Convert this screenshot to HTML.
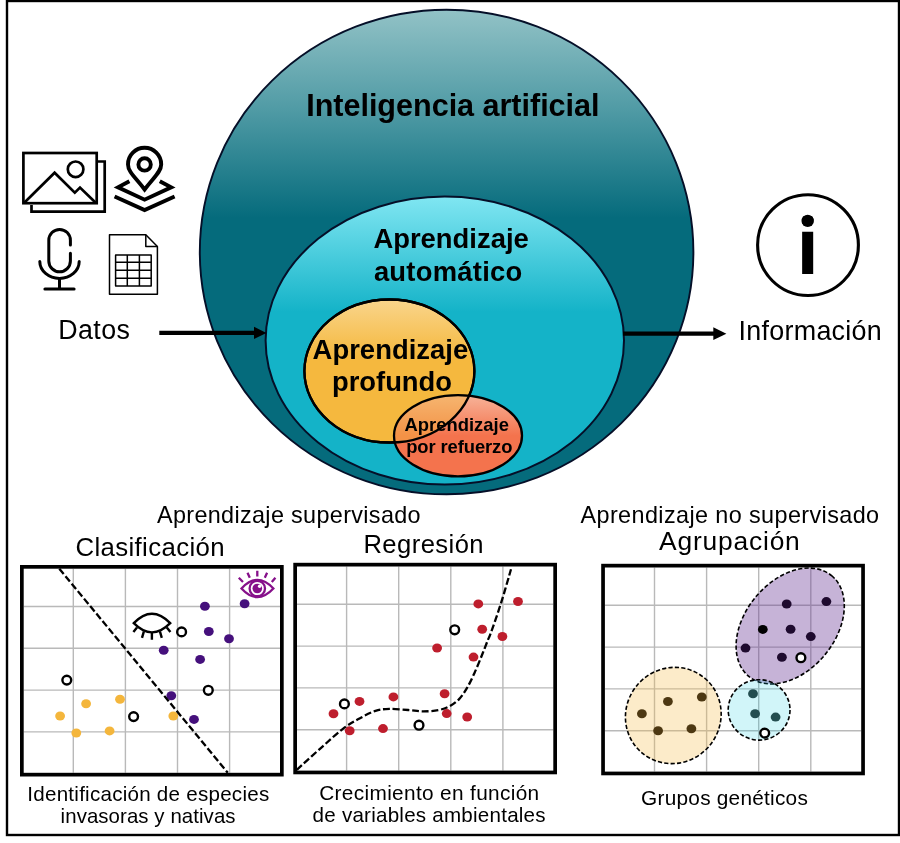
<!DOCTYPE html>
<html lang="es">
<head>
<meta charset="utf-8">
<title>Inteligencia artificial</title>
<style>
html,body{margin:0;padding:0;background:#fff;}
body{width:900px;height:843px;overflow:hidden;}
svg{display:block;}
text{font-family:"Liberation Sans",sans-serif;fill:#000;}
.b{font-weight:bold;}
</style>
</head>
<body>
<svg width="900" height="843" viewBox="0 0 900 843">
<defs>
<linearGradient id="gBig" x1="0" y1="0" x2="0" y2="1">
<stop offset="0" stop-color="#92c2c6"/>
<stop offset="0.2" stop-color="#529ca6"/>
<stop offset="0.43" stop-color="#056b7c"/>
<stop offset="1" stop-color="#056b7c"/>
</linearGradient>
<linearGradient id="gCyan" x1="0" y1="0" x2="0" y2="1">
<stop offset="0" stop-color="#80e6f2"/>
<stop offset="0.4" stop-color="#14b3c8"/>
<stop offset="1" stop-color="#14b3c8"/>
</linearGradient>
<linearGradient id="gOr" x1="0" y1="0" x2="0" y2="1">
<stop offset="0" stop-color="#f9d58c"/>
<stop offset="0.4" stop-color="#f5b83e"/>
<stop offset="1" stop-color="#f5b83e"/>
</linearGradient>
<linearGradient id="gRed" x1="0" y1="0" x2="0" y2="1">
<stop offset="0" stop-color="#f7b399"/>
<stop offset="0.5" stop-color="#f4734d"/>
<stop offset="1" stop-color="#f4734d"/>
</linearGradient>
</defs>
<rect x="0" y="0" width="900" height="843" fill="#fff"/>

<rect x="7" y="1" width="892" height="834" fill="none" stroke="#000" stroke-width="2.4"/>
<ellipse cx="446.6" cy="252" rx="246.8" ry="242.3" fill="url(#gBig)" stroke="#050f28" stroke-width="1.9"/>
<ellipse cx="444.8" cy="340.6" rx="179.2" ry="144" fill="url(#gCyan)" stroke="#050f28" stroke-width="2"/>
<ellipse cx="389.4" cy="371" rx="85" ry="71.5" fill="url(#gOr)" stroke="#000" stroke-width="2.3"/>
<clipPath id="cRed"><ellipse cx="458" cy="435.7" rx="64" ry="40.6"/></clipPath>
<ellipse cx="458" cy="435.7" rx="64" ry="40.6" fill="url(#gRed)"/>
<ellipse cx="389.4" cy="371" rx="85" ry="71.5" fill="#f5b83e" fill-opacity="0.45" clip-path="url(#cRed)"/>
<ellipse cx="389.4" cy="371" rx="85" ry="71.5" fill="none" stroke="#000" stroke-width="2.3"/>
<ellipse cx="458" cy="435.7" rx="64" ry="40.6" fill="none" stroke="#000" stroke-width="2.3"/>
<line x1="159.3" y1="332.9" x2="258.4" y2="332.9" stroke="#000" stroke-width="4.2"/>
<path d="M266.4 332.9 L254.0 326.8 L254.0 339.0 Z" fill="#000"/>
<line x1="623.0" y1="333.7" x2="718.4" y2="333.7" stroke="#000" stroke-width="4.2"/>
<path d="M726.4 333.7 L713.3 327.3 L713.3 340.1 Z" fill="#000"/>
<text x="306.2" y="116.0" font-size="30.60" class="b" text-anchor="start" textLength="293.3" lengthAdjust="spacing">Inteligencia artificial</text>
<text x="373.4" y="247.8" font-size="27.40" class="b" text-anchor="start" textLength="155.4" lengthAdjust="spacing">Aprendizaje</text>
<text x="373.9" y="281.1" font-size="27.40" class="b" text-anchor="start" textLength="148.3" lengthAdjust="spacing">automático</text>
<text x="312.6" y="358.8" font-size="27.40" class="b" text-anchor="start" textLength="155.6" lengthAdjust="spacing">Aprendizaje</text>
<text x="332.0" y="391.4" font-size="27.40" class="b" text-anchor="start" textLength="120.0" lengthAdjust="spacing">profundo</text>
<text x="404.4" y="430.9" font-size="18.40" class="b" text-anchor="start" textLength="104.6" lengthAdjust="spacing">Aprendizaje</text>
<text x="406.2" y="452.7" font-size="18.40" class="b" text-anchor="start" textLength="106.2" lengthAdjust="spacing">por refuerzo</text>
<text x="58.2" y="339.3" font-size="26.80" text-anchor="start" textLength="71.8" lengthAdjust="spacing">Datos</text>
<text x="738.5" y="340.3" font-size="26.90" text-anchor="start" textLength="143.3" lengthAdjust="spacing">Información</text>
<g fill="none" stroke="#000" stroke-width="2.7" stroke-linejoin="miter">
<path d="M31.5 205 V211.7 H104.7 V161.5 H98"/>
<rect x="23.4" y="153" width="73.3" height="50.2" fill="#fff"/>
<path d="M24 203 L54.6 172.7 L74.8 192.6 L80 187.6 L96 203" stroke-linejoin="miter"/>
<circle cx="75.6" cy="169.3" r="7.8"/>
</g>
<g fill="none" stroke="#000" stroke-width="3.9">
<path d="M144.6 189.5 C136 178 128 172 128 164.4 A16.6 16.6 0 0 1 161.2 164.4 C161.2 172 153 178 144.6 189.5 Z" stroke-linejoin="miter"/>
<circle cx="144.6" cy="164.4" r="6.2"/>
<path d="M129.4 181.2 L118 187.3 L144.6 199.7 L171.2 187.3 L159.8 181.2"/>
<path d="M114.6 196.5 L144.6 210 L174.6 196.5"/>
</g>
<g fill="none" stroke="#000" stroke-width="3.0" stroke-linecap="round">
<path d="M70.4 245 V240.2 A10.8 10.8 0 0 0 48.8 240.2 V261 A10.8 10.8 0 0 0 70.4 261 V253.3"/>
<path d="M39.8 261.6 A19.7 16.8 0 0 0 79.2 261.6"/>
<path d="M59.5 278.4 V289 M44.9 289 H74.1"/>
</g>
<g fill="none" stroke="#000" stroke-width="1.5" stroke-linejoin="round">
<path d="M109.5 234.7 H145.8 L157.4 246.6 V294.3 H109.5 Z"/>
<path d="M145.8 234.7 V246.6 H157.4"/>
<rect x="115.6" y="254.9" width="35.6" height="31.1"/>
<path d="M127.3 254.9 V286 M139.4 254.9 V286 M115.6 262.2 H151.2 M115.6 270.3 H151.2 M115.6 278.3 H151.2"/>
</g>
<circle cx="808" cy="245.1" r="50.4" fill="#fff" stroke="#000" stroke-width="3.1"/>
<clipPath id="cI"><rect x="800" y="231" width="16" height="44"/><circle cx="807.7" cy="220.9" r="6.2"/></clipPath>
<circle cx="807.7" cy="220.9" r="6.2" fill="#000"/>
<text x="796.6" y="274.4" font-size="80.6" class="b" clip-path="url(#cI)">i</text>
<text x="157.0" y="522.7" font-size="23.40" text-anchor="start" textLength="263.6" lengthAdjust="spacing">Aprendizaje supervisado</text>
<text x="75.4" y="555.6" font-size="25.80" text-anchor="start" textLength="149.2" lengthAdjust="spacing">Clasificación</text>
<text x="363.4" y="552.5" font-size="25.60" text-anchor="start" textLength="120.2" lengthAdjust="spacing">Regresión</text>
<text x="580.5" y="522.7" font-size="23.40" text-anchor="start" textLength="298.6" lengthAdjust="spacing">Aprendizaje no supervisado</text>
<text x="659.0" y="549.8" font-size="26.40" text-anchor="start" textLength="140.8" lengthAdjust="spacing">Agrupación</text>
<rect x="20.00" y="565.00" width="263.70" height="211.50" fill="#fff" stroke="none"/>
<path d="M73.3 568.7 V772.8 M125.4 568.7 V772.8 M177.5 568.7 V772.8 M229.6 568.7 V772.8 M23.7 606.5 H280.0 M23.7 648.3 H280.0 M23.7 690.1 H280.0 M23.7 731.9 H280.0 " stroke="#b9b9b9" stroke-width="1.4" fill="none"/>
<ellipse cx="204.9" cy="606.2" rx="4.9" ry="4.5" fill="#45107c"/>
<ellipse cx="244.6" cy="603.8" rx="4.9" ry="4.5" fill="#45107c"/>
<ellipse cx="208.8" cy="631.5" rx="4.9" ry="4.5" fill="#45107c"/>
<ellipse cx="229.0" cy="638.8" rx="4.9" ry="4.5" fill="#45107c"/>
<ellipse cx="163.7" cy="650.3" rx="4.9" ry="4.5" fill="#45107c"/>
<ellipse cx="200.1" cy="659.4" rx="4.9" ry="4.5" fill="#45107c"/>
<ellipse cx="171.3" cy="695.8" rx="4.9" ry="4.5" fill="#45107c"/>
<ellipse cx="194.0" cy="719.4" rx="4.9" ry="4.5" fill="#45107c"/>
<ellipse cx="86.1" cy="703.7" rx="4.9" ry="4.5" fill="#f4b63c"/>
<ellipse cx="120.0" cy="699.2" rx="4.9" ry="4.5" fill="#f4b63c"/>
<ellipse cx="60.1" cy="716.0" rx="4.9" ry="4.5" fill="#f4b63c"/>
<ellipse cx="76.3" cy="733.0" rx="4.9" ry="4.5" fill="#f4b63c"/>
<ellipse cx="109.6" cy="730.9" rx="4.9" ry="4.5" fill="#f4b63c"/>
<ellipse cx="173.3" cy="716.0" rx="4.9" ry="4.5" fill="#f4b63c"/>
<line x1="59.3" y1="568.7" x2="227.8" y2="772.8" stroke="#000" stroke-width="2.3" stroke-dasharray="6.9 2.8"/>
<circle cx="181.6" cy="631.9" r="4.4" fill="#fff" stroke="#000" stroke-width="2.4"/>
<circle cx="66.8" cy="680.1" r="4.4" fill="#fff" stroke="#000" stroke-width="2.4"/>
<circle cx="208.3" cy="690.3" r="4.4" fill="#fff" stroke="#000" stroke-width="2.4"/>
<circle cx="133.6" cy="716.6" r="4.4" fill="#fff" stroke="#000" stroke-width="2.4"/>
<g fill="none" stroke="#000" stroke-width="2.4" stroke-linecap="butt">
<path d="M133.8 623.2 Q151.9 604.3 170.2 623.2 Q151.9 641.6 133.8 623.2 Z" stroke-linejoin="miter"/>
<path d="M137 627.4 L133.4 631.9 M143.9 631.3 L142 637.9 M151.9 632.6 V639.8 M159.9 631.3 L161.8 637.9 M166.8 627.4 L170.4 631.9"/>
</g>
<g fill="none" stroke="#86108a" stroke-width="2.3">
<path d="M241.5 588.5 Q257.3 571.3 273.4 588.5 Q257.3 605.7 241.5 588.5 Z" stroke-linejoin="miter"/>
<circle cx="257.3" cy="588.5" r="7.7"/>
<path d="M238.8 577.7 L243 582 M247.5 572.8 L249.8 577.8 M257.3 570.8 V576.6 M267.1 572.8 L264.8 577.8 M275.4 577.7 L271.8 582"/>
</g>
<circle cx="257.3" cy="588.5" r="4.8" fill="#86108a"/>
<circle cx="259.6" cy="586.2" r="1.7" fill="#fff"/>
<rect x="21.85" y="566.85" width="260.00" height="207.80" fill="none" stroke="#000" stroke-width="3.7"/>
<rect x="293.30" y="562.80" width="263.70" height="211.50" fill="#fff" stroke="none"/>
<path d="M346.6 566.5 V770.6 M398.7 566.5 V770.6 M450.8 566.5 V770.6 M502.9 566.5 V770.6 M297.0 604.3 H553.3 M297.0 646.1 H553.3 M297.0 687.9 H553.3 M297.0 729.7 H553.3 " stroke="#b9b9b9" stroke-width="1.4" fill="none"/>
<ellipse cx="478.3" cy="603.9" rx="4.9" ry="4.5" fill="#be1e2d"/>
<ellipse cx="518.0" cy="601.5" rx="4.9" ry="4.5" fill="#be1e2d"/>
<ellipse cx="482.2" cy="629.2" rx="4.9" ry="4.5" fill="#be1e2d"/>
<ellipse cx="502.4" cy="636.5" rx="4.9" ry="4.5" fill="#be1e2d"/>
<ellipse cx="437.1" cy="648.0" rx="4.9" ry="4.5" fill="#be1e2d"/>
<ellipse cx="473.5" cy="657.1" rx="4.9" ry="4.5" fill="#be1e2d"/>
<ellipse cx="444.6" cy="693.7" rx="4.9" ry="4.5" fill="#be1e2d"/>
<ellipse cx="446.7" cy="713.6" rx="4.9" ry="4.5" fill="#be1e2d"/>
<ellipse cx="467.2" cy="717.0" rx="4.9" ry="4.5" fill="#be1e2d"/>
<ellipse cx="359.5" cy="701.4" rx="4.9" ry="4.5" fill="#be1e2d"/>
<ellipse cx="393.4" cy="696.9" rx="4.9" ry="4.5" fill="#be1e2d"/>
<ellipse cx="333.5" cy="713.7" rx="4.9" ry="4.5" fill="#be1e2d"/>
<ellipse cx="349.7" cy="730.7" rx="4.9" ry="4.5" fill="#be1e2d"/>
<ellipse cx="383.0" cy="728.6" rx="4.9" ry="4.5" fill="#be1e2d"/>
<path d="M296.8 769.8 C300.9 766.1 313.4 754.6 321.1 747.8 C328.8 741.0 336.4 733.7 342.9 728.8 C349.4 723.9 354.6 721.2 360.0 718.2 C365.4 715.2 370.6 712.5 375.5 710.9 C380.4 709.3 384.1 709.0 389.5 708.9 C394.9 708.8 402.6 709.6 408.2 710.0 C413.8 710.4 418.2 711.4 423.3 711.4 C428.4 711.4 434.5 710.9 438.9 710.0 C443.3 709.1 446.4 707.9 449.8 706.1 C453.2 704.3 456.2 702.1 459.1 699.1 C462.0 696.1 464.3 692.6 466.9 688.2 C469.5 683.8 472.0 678.4 474.6 672.7 C477.2 667.0 480.2 659.5 482.4 654.0 C484.6 648.5 486.5 643.5 487.9 640.0 C489.3 636.5 488.6 639.2 490.8 633.1 C493.0 627.0 497.5 614.1 500.9 603.5 C504.3 592.9 509.3 575.0 511.0 569.3" fill="none" stroke="#000" stroke-width="2.3" stroke-dasharray="6.9 2.8"/>
<circle cx="454.7" cy="629.8" r="4.4" fill="#fff" stroke="#000" stroke-width="2.4"/>
<circle cx="344.4" cy="703.9" r="4.4" fill="#fff" stroke="#000" stroke-width="2.4"/>
<circle cx="419.0" cy="725.2" r="4.4" fill="#fff" stroke="#000" stroke-width="2.4"/>
<rect x="295.15" y="564.65" width="260.00" height="207.80" fill="none" stroke="#000" stroke-width="3.7"/>
<rect x="601.20" y="563.80" width="263.70" height="211.50" fill="#fff" stroke="none"/>
<path d="M654.5 567.5 V771.6 M706.6 567.5 V771.6 M758.7 567.5 V771.6 M810.8 567.5 V771.6 M604.9 605.3 H861.2 M604.9 647.1 H861.2 M604.9 688.9 H861.2 M604.9 730.7 H861.2 " stroke="#b9b9b9" stroke-width="1.4" fill="none"/>
<ellipse cx="0" cy="0" rx="48.8" ry="47.2" transform="translate(673.3 715.5) rotate(-50)" fill="rgba(246,190,80,0.31)" stroke="#000" stroke-width="1.6" stroke-dasharray="4.2 2.2"/>
<ellipse cx="0" cy="0" rx="65.2" ry="45.1" transform="translate(790.2 626) rotate(-50.6)" fill="rgba(105,55,150,0.38)" stroke="#000" stroke-width="1.6" stroke-dasharray="4.2 2.2"/>
<ellipse cx="759.1" cy="709.9" rx="30.9" ry="30.2" fill="rgba(0,200,220,0.18)" stroke="#000" stroke-width="1.6" stroke-dasharray="4.2 2.2"/>
<ellipse cx="786.7" cy="604.0" rx="4.9" ry="4.5" fill="#1e0a2e"/>
<ellipse cx="826.4" cy="601.6" rx="4.9" ry="4.5" fill="#1e0a2e"/>
<ellipse cx="790.6" cy="629.3" rx="4.9" ry="4.5" fill="#1e0a2e"/>
<ellipse cx="810.8" cy="636.6" rx="4.9" ry="4.5" fill="#1e0a2e"/>
<ellipse cx="745.5" cy="648.1" rx="4.9" ry="4.5" fill="#1e0a2e"/>
<ellipse cx="781.9" cy="657.2" rx="4.9" ry="4.5" fill="#1e0a2e"/>
<ellipse cx="762.8" cy="629.4" rx="4.9" ry="4.5" fill="#000"/>
<ellipse cx="753.0" cy="693.8" rx="4.9" ry="4.5" fill="#244d50"/>
<ellipse cx="755.1" cy="713.7" rx="4.9" ry="4.5" fill="#244d50"/>
<ellipse cx="775.6" cy="717.1" rx="4.9" ry="4.5" fill="#244d50"/>
<ellipse cx="667.9" cy="701.5" rx="4.9" ry="4.5" fill="#4d3812"/>
<ellipse cx="701.8" cy="697.0" rx="4.9" ry="4.5" fill="#4d3812"/>
<ellipse cx="641.9" cy="713.8" rx="4.9" ry="4.5" fill="#4d3812"/>
<ellipse cx="658.1" cy="730.8" rx="4.9" ry="4.5" fill="#4d3812"/>
<ellipse cx="691.4" cy="728.7" rx="4.9" ry="4.5" fill="#4d3812"/>
<circle cx="800.9" cy="657.7" r="4.4" fill="#fff" stroke="#000" stroke-width="2.4"/>
<circle cx="764.7" cy="733.1" r="4.4" fill="#fff" stroke="#000" stroke-width="2.4"/>
<rect x="603.05" y="565.65" width="260.00" height="207.80" fill="none" stroke="#000" stroke-width="3.7"/>
<text x="27.3" y="801.4" font-size="20.60" text-anchor="start" textLength="241.9" lengthAdjust="spacing">Identificación de especies</text>
<text x="60.6" y="823.2" font-size="20.40" text-anchor="start" textLength="174.9" lengthAdjust="spacing">invasoras y nativas</text>
<text x="319.2" y="799.9" font-size="20.80" text-anchor="start" textLength="220.0" lengthAdjust="spacing">Crecimiento en función</text>
<text x="312.6" y="821.7" font-size="20.60" text-anchor="start" textLength="233.0" lengthAdjust="spacing">de variables ambientales</text>
<text x="641.1" y="804.6" font-size="20.80" text-anchor="start" textLength="166.7" lengthAdjust="spacing">Grupos genéticos</text>
</svg>
</body>
</html>
